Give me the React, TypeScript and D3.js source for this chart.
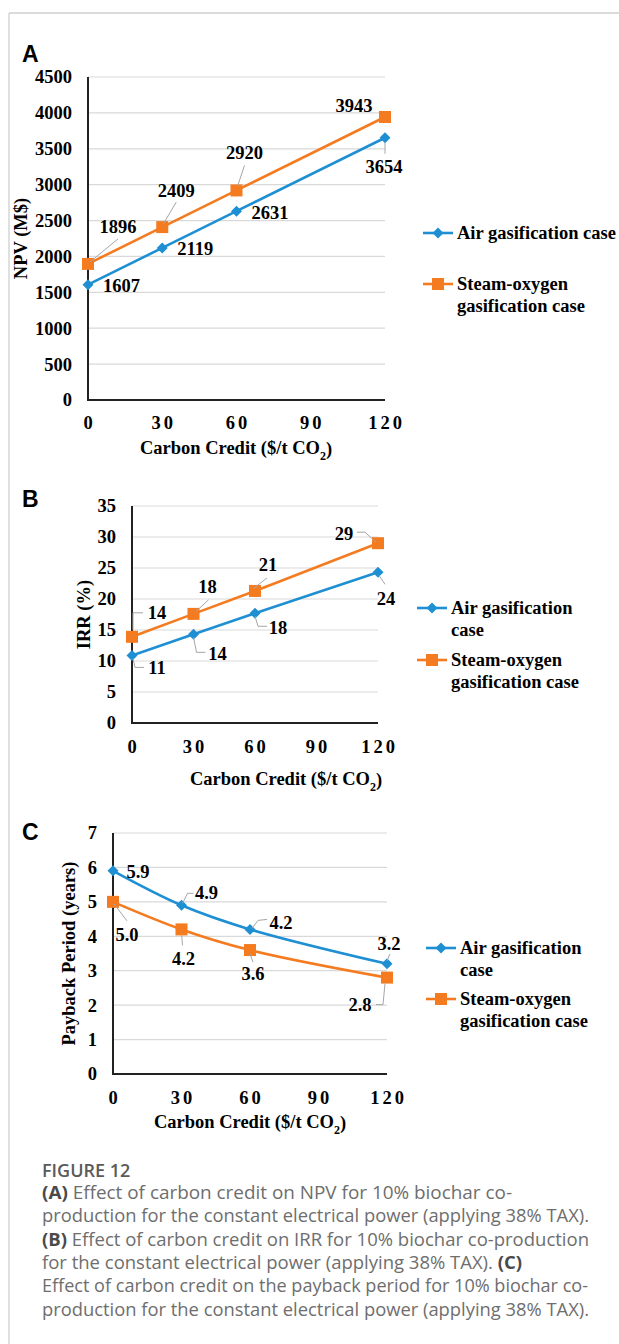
import React from 'react'
import * as d3 from 'd3'

// carbon credit ($/t CO2)
const credit = [0, 30, 60, 120]
const xTicks = [0, 30, 60, 90, 120]

// (A) NPV (M$)
const npvAir = [1607, 2119, 2631, 3654]
const npvSteam = [1896, 2409, 2920, 3943]
const npvTicks = [0, 500, 1000, 1500, 2000, 2500, 3000, 3500, 4000, 4500]

// (B) IRR (%)
const irrAir = [10.9, 14.3, 17.7, 24.3]
const irrSteam = [13.9, 17.6, 21.3, 29.0]
const irrTicks = [0, 5, 10, 15, 20, 25, 30, 35]

// (C) payback period (years)
const paybackAir = [5.9, 4.9, 4.2, 3.2]
const paybackSteam = [5.0, 4.2, 3.6, 2.8]
const paybackTicks = [0, 1, 2, 3, 4, 5, 6, 7]

const seriesNames = ['Air gasification case', 'Steam-oxygen gasification case']

const captionLines = [
  [['(A)', true], [' Effect of carbon credit on NPV for 10% biochar co-', false]],
  [['production for the constant electrical power (applying 38% TAX).', false]],
  [['(B)', true], [' Effect of carbon credit on IRR for 10% biochar co-production', false]],
  [['for the constant electrical power (applying 38% TAX). ', false], ['(C)', true]],
  [['Effect of carbon credit on the payback period for 10% biochar co-', false]],
  [['production for the constant electrical power (applying 38% TAX).', false]],
] as [string, boolean][][]
const captionWidths = [470, 547, 547, 480, 546, 547]

const BLUE = '#1f8fd3'
const ORANGE = '#f47b20'
const SERIF = '"Liberation Serif", "Times New Roman", serif'
const SANS = '"Liberation Sans", Arial, sans-serif'
const FS = 18.5

type Lbl = { dx: number; dy: number; a: 'start' | 'middle' | 'end'; leader?: [number, number][] }

type PanelProps = {
  letter: string
  letterY: number
  x0: number
  x1: number
  yTop: number
  yBottom: number
  ticks: number[]
  air: number[]
  steam: number[]
  digits: number
  yTitle: string
  yTitleX: number
  xTitleX: number
  xTitleY: number
  xTickY: number
  airLabels: Lbl[]
  steamLabels: Lbl[]
  legendX: number
  legendY: [number, number]
  legendLines: [string[], string[]]
  smooth?: boolean
}

function Diamond({ x, y, r = 5.5, fill }: { x: number; y: number; r?: number; fill: string }) {
  return <polygon points={`${x},${y - r} ${x + r},${y} ${x},${y + r} ${x - r},${y}`} fill={fill} />
}

function Square({ x, y, s = 12, fill }: { x: number; y: number; s?: number; fill: string }) {
  return <rect x={x - s / 2} y={y - s / 2} width={s} height={s} fill={fill} />
}

function Panel(p: PanelProps) {
  const x = d3.scaleLinear().domain([0, 120]).range([p.x0, p.x1])
  const y = d3
    .scaleLinear()
    .domain([0, p.ticks[p.ticks.length - 1]])
    .range([p.yBottom, p.yTop])

  const lineFn = d3
    .line<number>()
    .x((_d, i) => x(credit[i]))
    .y((d) => y(d))
    .curve(p.smooth ? d3.curveCatmullRom.alpha(0.5) : d3.curveLinear)

  const fmt = (v: number) => v.toFixed(p.digits)
  const spacing = 3

  const labels = (vals: number[], cfg: Lbl[]) =>
    vals.map((v, i) => {
      const px = x(credit[i])
      const py = y(v)
      const c = cfg[i]
      return (
        <g key={i}>
          {c.leader && (
            <polyline
              points={c.leader.map(([lx, ly]) => `${px + lx},${py + ly}`).join(' ')}
              fill="none"
              stroke="#a6a6a6"
              strokeWidth={1}
            />
          )}
          <text x={px + c.dx} y={py + c.dy} dy="0.35em" textAnchor={c.a}>
            {fmt(v)}
          </text>
        </g>
      )
    })

  return (
    <g fontFamily={SERIF} fontWeight="bold" fontSize={FS} fill="#000">
      <text x={22} y={p.letterY} fontFamily={SANS} fontSize={23}>
        {p.letter}
      </text>

      {p.ticks.slice(1).map((t) => (
        <line key={t} x1={p.x0} x2={p.x1} y1={y(t)} y2={y(t)} stroke="#d9d9d9" strokeWidth={1.2} />
      ))}
      <line x1={p.x0} x2={p.x0} y1={p.yTop} y2={p.yBottom} stroke="#222" strokeWidth={2} />
      <line x1={p.x0 - 1} x2={p.x1} y1={p.yBottom} y2={p.yBottom} stroke="#222" strokeWidth={2} />

      {p.ticks.map((t) => (
        <text key={t} x={p.x0 - 16} y={y(t)} dy="0.35em" textAnchor="end">
          {t}
        </text>
      ))}
      {xTicks.map((t) => (
        <text
          key={t}
          x={x(t) + spacing / 2}
          y={p.xTickY}
          dy="0.35em"
          textAnchor="middle"
          letterSpacing={spacing}
        >
          {t}
        </text>
      ))}

      <text x={p.xTitleX} y={p.xTitleY} dy="0.35em" textAnchor="middle">
        Carbon Credit ($/t CO
        <tspan fontSize={12} dy="0.5em">
          2
        </tspan>
        <tspan dy="-0.32em">)</tspan>
      </text>
      <text
        transform={`translate(${p.yTitleX},${(p.yTop + p.yBottom) / 2}) rotate(-90)`}
        dy="0.35em"
        textAnchor="middle"
      >
        {p.yTitle}
      </text>

      <path d={lineFn(p.air) ?? ''} fill="none" stroke={BLUE} strokeWidth={2.6} />
      <path d={lineFn(p.steam) ?? ''} fill="none" stroke={ORANGE} strokeWidth={2.6} />
      {p.air.map((v, i) => (
        <Diamond key={i} x={x(credit[i])} y={y(v)} fill={BLUE} />
      ))}
      {p.steam.map((v, i) => (
        <Square key={i} x={x(credit[i])} y={y(v)} fill={ORANGE} />
      ))}

      {labels(p.air, p.airLabels)}
      {labels(p.steam, p.steamLabels)}

      {[0, 1].map((k) => {
        const ly = p.legendY[k]
        const col = k === 0 ? BLUE : ORANGE
        return (
          <g key={k}>
            <line x1={p.legendX} x2={p.legendX + 30} y1={ly} y2={ly} stroke={col} strokeWidth={2.6} />
            {k === 0 ? (
              <Diamond x={p.legendX + 15} y={ly} fill={col} />
            ) : (
              <Square x={p.legendX + 15} y={ly} fill={col} />
            )}
            {p.legendLines[k].map((t, j) => (
              <text key={j} x={p.legendX + 34} y={ly + j * 22} dy="0.35em">
                {t}
              </text>
            ))}
          </g>
        )
      })}
    </g>
  )
}

export default function App(): JSX.Element {
  return (
    <svg
      width={619}
      height={1344}
      style={{ position: 'absolute', left: 0, top: 0, background: '#fff' }}
      xmlns="http://www.w3.org/2000/svg"
    >
      <line x1={9} x2={619} y1={13} y2={13} stroke="#cfcfcf" strokeWidth={1.3} />
      <line x1={9} x2={9} y1={13} y2={1344} stroke="#cfcfcf" strokeWidth={1.3} />

      <Panel
        letter="A"
        letterY={62}
        x0={88}
        x1={385}
        yTop={77}
        yBottom={400}
        ticks={npvTicks}
        air={npvAir}
        steam={npvSteam}
        digits={0}
        yTitle="NPV (M$)"
        yTitleX={21}
        xTitleX={236}
        xTitleY={448}
        xTickY={423}
        airLabels={[
          { dx: 15, dy: 1, a: 'start' },
          { dx: 15, dy: 1, a: 'start' },
          { dx: 15, dy: 1, a: 'start' },
          { dx: -1, dy: 29, a: 'middle', leader: [[0, 5], [0, 16]] },
        ]}
        steamLabels={[
          { dx: 30, dy: -37, a: 'middle', leader: [[2, -2], [30, -25]] },
          { dx: 14, dy: -37, a: 'middle', leader: [[1, -3], [14, -25]] },
          { dx: 8, dy: -38, a: 'middle', leader: [[1, -4], [8, -25]] },
          { dx: -31, dy: -11, a: 'middle' },
        ]}
        legendX={423}
        legendY={[233, 284]}
        legendLines={[[seriesNames[0]], ['Steam-oxygen', 'gasification case']]}
      />

      <Panel
        letter="B"
        letterY={507}
        x0={132}
        x1={378}
        yTop={506}
        yBottom={723}
        ticks={irrTicks}
        air={irrAir}
        steam={irrSteam}
        digits={0}
        yTitle="IRR (%)"
        yTitleX={84}
        xTitleX={286}
        xTitleY={779}
        xTickY={747}
        airLabels={[
          { dx: 25, dy: 12, a: 'middle', leader: [[1, 3], [3, 12], [12, 12]] },
          { dx: 24, dy: 19, a: 'middle', leader: [[0, 3], [3, 18], [12, 18]] },
          { dx: 23, dy: 14, a: 'middle', leader: [[0, 3], [3, 13], [12, 13]] },
          { dx: 8, dy: 26, a: 'middle', leader: [[1, 3], [7, 12]] },
        ]}
        steamLabels={[
          { dx: 25, dy: -24, a: 'middle', leader: [[1, -7], [1, -24], [11, -24]] },
          { dx: 14, dy: -27, a: 'middle', leader: [[2, -2], [15, -14]] },
          { dx: 13, dy: -26, a: 'middle', leader: [[-2, -2], [12, -13]] },
          { dx: -34, dy: -10, a: 'middle', leader: [[-21, -11], [-13, -11], [-2, -1]] },
        ]}
        legendX={417}
        legendY={[608, 660]}
        legendLines={[['Air gasification', 'case'], ['Steam-oxygen', 'gasification case']]}
      />

      <Panel
        letter="C"
        letterY={840}
        x0={113}
        x1={387}
        yTop={833}
        yBottom={1074}
        ticks={paybackTicks}
        air={paybackAir}
        steam={paybackSteam}
        digits={1}
        yTitle="Payback Period (years)"
        yTitleX={69}
        xTitleX={250}
        xTitleY={1122}
        xTickY={1098}
        smooth
        airLabels={[
          { dx: 25, dy: 1, a: 'middle' },
          { dx: 25, dy: -13, a: 'middle', leader: [[1, -2], [6, -12], [12, -12]] },
          { dx: 31, dy: -7, a: 'middle', leader: [[2, -1], [8, -9], [17, -10]] },
          { dx: 2, dy: -20, a: 'middle', leader: [[0, -3], [3, -10]] },
        ]}
        steamLabels={[
          { dx: 14, dy: 33, a: 'middle', leader: [[1, 2], [14, 19]] },
          { dx: 2, dy: 29, a: 'middle', leader: [[0, 4], [1, 16]] },
          { dx: 3, dy: 23, a: 'middle', leader: [[0, 4], [3, 12]] },
          { dx: -27, dy: 27, a: 'middle', leader: [[-11, 27], [-4, 27], [-2, 6]] },
        ]}
        legendX={426}
        legendY={[948, 999]}
        legendLines={[['Air gasification', 'case'], ['Steam-oxygen', 'gasification case']]}
      />

      <g fontFamily='"Open Sans", "Noto Sans", sans-serif'>
        <text x={42} y={1177} fontSize={18} fontWeight={600} fill="#5a5a5a">
          FIGURE 12
        </text>
        {captionLines.map((parts, i) => (
          <text
            key={i}
            x={42}
            y={1199 + i * 23.3}
            fontSize={17.5}
            fill="#6e6e6e"
            textLength={captionWidths[i]}
            lengthAdjust="spacingAndGlyphs"
          >
            {parts.map(([t, b], j) => (
              <tspan key={j} fontWeight={b ? 700 : 400} fill={b ? '#4a4a4a' : '#6e6e6e'}>
                {t}
              </tspan>
            ))}
          </text>
        ))}
      </g>
    </svg>
  )
}
